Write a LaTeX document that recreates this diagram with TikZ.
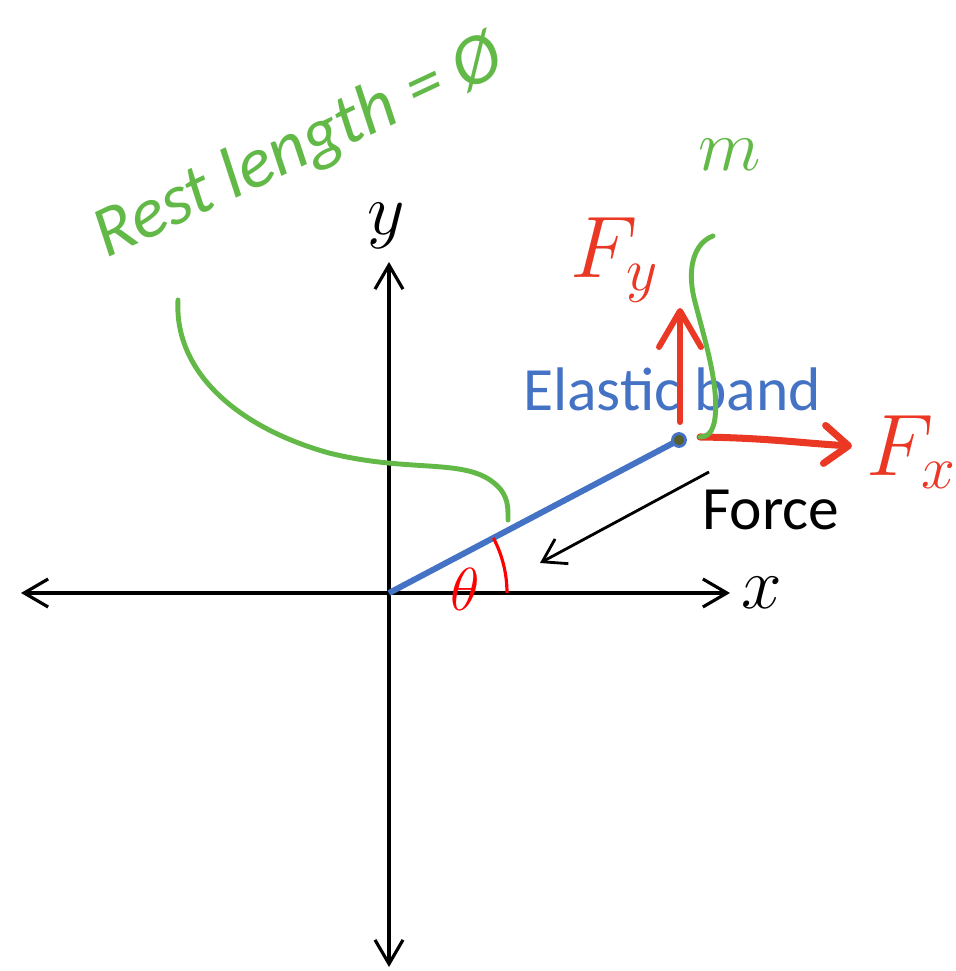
\documentclass[tikz,border=0pt]{standalone}
\usepackage{fontspec}
\setmainfont{Carlito}
\usetikzlibrary{arrows.meta}
\definecolor{bandblue}{RGB}{68,114,196}
\definecolor{penred}{RGB}{234,56,36}
\definecolor{pengreen}{RGB}{98,185,72}
\definecolor{dotolive}{RGB}{88,96,44}

\begin{document}
\begin{tikzpicture}[line width=0.8pt,
    axis/.style={line width=0.9pt, {Straight Barb[length=2.4mm,width=2.8mm]}-{Straight Barb[length=2.4mm,width=2.8mm]}},
    redpen/.style={penred, line width=1.7pt, line cap=round},
    greenpen/.style={pengreen, line width=1.4pt, line cap=round},
    hand/.style={font=\fontsize{#1}{#1}\selectfont}]
  \useasboundingbox (-3.89,-3.78) rectangle (5.66,5.93);
  \coordinate (O) at (0,0);
  \coordinate (xL) at (-3.68,0);
  \coordinate (xR) at (3.41,0);
  \coordinate (yB) at (0,-3.74);
  \coordinate (yT) at (0,3.31);
  \coordinate (P) at (2.90,1.53);
  % axes
  \draw[axis] (xL) -- (xR);
  \draw[axis] (yB) -- (yT);
  \node[hand=20] (xlab) at (3.73,0) {$x$};
  \node[hand=20] (ylab) at (-0.03,3.67) {$y$};
  % elastic band
  \draw[bandblue, line width=1.7pt] (O) -- (P);
  \draw[red, line width=0.9pt] (1.18,0) arc[start angle=0, end angle=27.8, radius=1.18];
  \node[red, hand=17] (theta) at (0.76,0.04) {$\theta$};
  \filldraw[fill=dotolive, draw=bandblue, line width=0.8pt] (P) circle (0.065);
  \node[bandblue, hand=17.5] (bandlab) at (2.83,2.04) {Elastic band};
  \coordinate (fA) at (3.20,1.21);
  \coordinate (fB) at (1.51,0.30);
  \draw[-{Straight Barb[length=2.2mm,width=2.8mm]}] (fA) -- (fB);
  \node[hand=17.5] (forcelab) at (3.82,0.83) {Force};
  % components
  \coordinate (fyA) at (2.91,1.71);
  \coordinate (fyB) at (2.91,2.85);
  \coordinate (fxA) at (3.11,1.56);
  \coordinate (fxB) at (4.63,1.47);
  \draw[redpen, -{Straight Barb[length=3.6mm,width=4.2mm,round]}] (fyA) -- (fyB);
  \draw[redpen, line width=2pt, -{Straight Barb[length=2.4mm,width=3.8mm,round]}] (fxA) .. controls (3.8,1.55) and (4.1,1.5) .. (fxB);
  \node[penred, hand=25] (fylab) at (2.26,3.33) {$F_y$};
  \node[penred, hand=27] (fxlab) at (5.23,1.41) {$F_x$};
  % mass and rest length notes
  \draw[greenpen] (3.24,3.57) .. controls (3.05,3.50) and (2.98,3.25) .. (3.05,2.95)
    .. controls (3.15,2.55) and (3.30,2.10) .. (3.26,1.75)
    .. controls (3.24,1.60) and (3.18,1.56) .. (fxA);
  \node[pengreen, hand=20] (mlab) at (3.41,4.38) {$m$};
  \draw[greenpen] (-2.11,2.93) .. controls (-2.15,2.20) and (-1.50,1.65) .. (-0.60,1.40)
    .. controls (0.20,1.20) and (0.75,1.35) .. (1.05,1.10)
    .. controls (1.20,0.98) and (1.19,0.85) .. (1.19,0.73);
  \node[pengreen, hand=20.5, anchor=base, rotate=25] (restlab) at (-0.82,4.28) {\itshape Rest length = Ø};
\end{tikzpicture}
\end{document}
